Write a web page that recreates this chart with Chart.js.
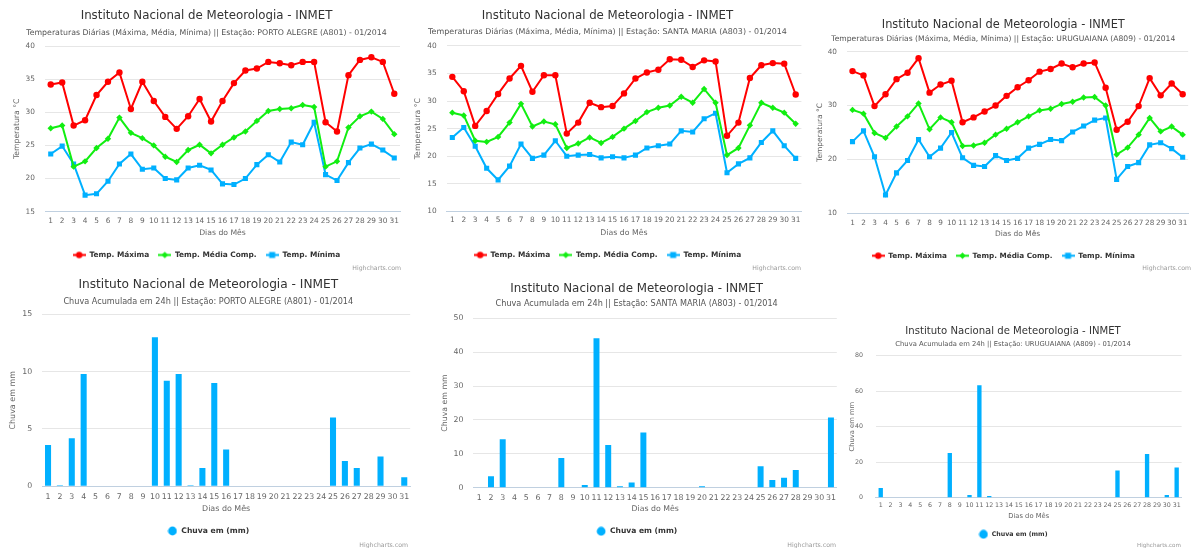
<!DOCTYPE html>
<html><head><meta charset="utf-8">
<script src="https://cdn.jsdelivr.net/npm/chart.js@4/dist/chart.umd.min.js"></script>
<style>
html,body{margin:0;padding:0;background:#fff;}
body{position:relative;width:1193px;height:548px;overflow:hidden;font-family:"DejaVu Sans",sans-serif;}
canvas{position:absolute;}
.credit{position:absolute;color:#999;white-space:nowrap;line-height:1;font-family:"DejaVu Sans",sans-serif;}
</style></head><body>
<script>
// ---------- DATA ----------
const days = ['1','2','3','4','5','6','7','8','9','10','11','12','13','14','15','16','17','18','19','20','21','22','23','24','25','26','27','28','29','30','31'];

const poaMax = [34.2,34.5,28.0,28.8,32.6,34.6,36.0,30.5,34.6,31.7,29.3,27.5,29.4,32.0,28.6,31.7,34.4,36.3,36.6,37.6,37.4,37.1,37.6,37.6,28.5,27.1,35.6,37.9,38.3,37.6,32.8];
const poaMed = [27.6,28.0,21.8,22.6,24.6,26.0,29.2,26.9,26.1,25.0,23.3,22.5,24.3,25.1,23.8,25.1,26.2,27.1,28.7,30.2,30.5,30.6,31.1,30.8,21.8,22.6,27.7,29.4,30.1,29.0,26.7];
const poaMin = [23.7,24.9,22.2,17.5,17.7,19.6,22.2,23.7,21.4,21.6,20.0,19.8,21.6,22.0,21.3,19.2,19.1,20.0,22.1,23.6,22.5,25.5,25.1,28.5,20.6,19.7,22.4,24.6,25.2,24.3,23.1];

const smMax = [34.4,31.8,25.5,28.2,31.3,34.1,36.4,31.7,34.7,34.7,24.1,26.1,29.7,28.9,29.1,31.4,34.1,35.2,35.7,37.6,37.5,36.2,37.4,37.2,23.7,26.1,34.2,36.5,36.9,36.8,31.2];
const smMed = [27.9,27.4,22.8,22.6,23.5,26.1,29.5,25.4,26.3,25.8,21.5,22.3,23.4,22.4,23.5,25.0,26.4,28.0,28.8,29.2,30.8,29.7,32.2,29.7,20.2,21.5,25.6,29.7,28.8,27.9,25.9];
const smMin = [23.4,25.2,21.8,17.8,15.7,18.2,22.2,19.6,20.2,22.8,20.0,20.2,20.3,19.7,19.9,19.7,20.2,21.5,21.9,22.2,24.6,24.4,26.8,27.8,17.0,18.6,19.7,22.5,24.6,21.9,19.6];

const uruMax = [36.4,35.6,29.9,32.1,34.9,36.1,38.8,32.4,33.9,34.6,26.9,27.8,28.9,30.0,31.8,33.4,34.7,36.3,36.8,37.8,37.1,37.8,38.0,33.3,25.5,27.0,29.9,35.1,31.9,34.1,32.1];
const uruMed = [29.2,28.5,24.9,24.0,26.1,28.0,30.4,25.6,27.8,26.9,22.5,22.6,23.1,24.6,25.7,26.9,28.0,29.1,29.4,30.3,30.7,31.5,31.6,30.0,20.9,22.2,24.6,27.7,25.2,26.1,24.6];
const uruMin = [23.3,25.3,20.5,13.4,17.5,19.8,23.7,20.5,22.1,25.0,20.3,18.9,18.7,20.7,19.8,20.2,22.1,22.8,23.7,23.5,25.1,26.2,27.3,27.7,16.3,18.7,19.4,22.7,23.1,22.0,20.4];

const poaRain = [3.6,0.1,4.2,9.8,0,0,0,0,0,13.0,9.2,9.8,0.1,1.6,9.0,3.2,0,0,0,0,0,0,0,0,6.0,2.2,1.6,0,2.6,0,0.8];
const smRain  = [0,3.4,14.3,0,0,0,0,8.8,0,0.8,44.1,12.6,0.4,1.5,16.3,0,0,0,0,0.4,0,0,0,0,6.3,2.3,2.9,5.2,0,0,20.7];
const uruRain = [5.4,0,0,0,0,0,0,25.2,0,1.5,63.4,0.9,0,0,0,0,0,0,0,0,0,0,0,0,15.3,0,0,24.6,0,1.5,17.0];

const ticksPoaTemp = [15,20,25,30,35,40];
const ticksSmTemp  = [10,15,20,25,30,35,40];
const ticksUruTemp = [10,20,30,40];
const ticksPoaRain = [0,5,10,15];
const ticksSmRain  = [0,10,20,30,40,50];
const ticksUruRain = [0,20,40,60,80];

const TITLE = 'Instituto Nacional de Meteorologia - INMET';
const subTemp = ['Temperaturas Diárias (Máxima, Média, Mínima) || Estação: PORTO ALEGRE (A801) - 01/2014',
                 'Temperaturas Diárias (Máxima, Média, Mínima) || Estação: SANTA MARIA (A803) - 01/2014',
                 'Temperaturas Diárias (Máxima, Média, Mínima) || Estação: URUGUAIANA (A809) - 01/2014'];
const subRain = ['Chuva Acumulada em 24h || Estação: PORTO ALEGRE (A801) - 01/2014',
                 'Chuva Acumulada em 24h || Estação: SANTA MARIA (A803) - 01/2014',
                 'Chuva Acumulada em 24h || Estação: URUGUAIANA (A809) - 01/2014'];
const tempNames = ['Temp. Máxima','Temp. Média Comp.','Temp. Mínima'];
const rainName = 'Chuva em (mm)';

// ---------- STYLE HELPERS ----------
const FONT = '"DejaVu Sans", sans-serif';
const RED = '#ff0000', GREEN = '#11ee11', BLUE = '#00b0ff';
const mctx = document.createElement('canvas').getContext('2d');
function fitSize(text, weight, width) {
  mctx.font = weight + ' 100px ' + FONT;
  return 100 * width / mctx.measureText(text).width;
}
function legendIcon(color, shape, withLine) {
  const c = document.createElement('canvas');
  const w = withLine ? 13 : 10, h = withLine ? 9 : 10;
  c.width = w; c.height = h;
  const g = c.getContext('2d');
  g.fillStyle = color; g.strokeStyle = color;
  if (withLine) { g.lineWidth = 2; g.beginPath(); g.moveTo(0, h/2); g.lineTo(w, h/2); g.stroke(); }
  const cx = w/2, cy = h/2;
  g.beginPath();
  if (shape === 'circle') g.arc(cx, cy, withLine ? 3.2 : 4.4, 0, 2*Math.PI);
  else if (shape === 'rectRot') { const r = 3.3; g.moveTo(cx, cy-r); g.lineTo(cx+r, cy); g.lineTo(cx, cy+r); g.lineTo(cx-r, cy); g.closePath(); }
  else g.rect(cx-3, cy-3, 6, 6);
  g.fill();
  return c;
}
function lineSets(maxA, medA, minA) {
  const base = {borderWidth: 2, pointBorderWidth: 0, tension: 0};
  return [
    Object.assign({label: tempNames[0], data: maxA, borderColor: RED, backgroundColor: RED, pointBackgroundColor: RED, pointStyle: 'circle', pointRadius: 3.2}, base),
    Object.assign({label: tempNames[1], data: medA, borderColor: GREEN, backgroundColor: GREEN, pointBackgroundColor: GREEN, pointStyle: 'rectRot', pointRadius: 3.2}, base),
    Object.assign({label: tempNames[2], data: minA, borderColor: BLUE, backgroundColor: BLUE, pointBackgroundColor: BLUE, pointStyle: 'rect', pointRadius: 3.6}, base)
  ];
}
function barSets(arr, bp) {
  return [{label: rainName, data: arr, backgroundColor: BLUE, borderWidth: 0, barPercentage: bp, categoryPercentage: 1}];
}
function credit(right, y, size) {
  const d = document.createElement('div');
  d.className = 'credit';
  d.textContent = 'Highcharts.com';
  d.style.fontSize = size + 'px';
  mctx.font = 'normal ' + size + 'px ' + FONT;
  const w = mctx.measureText('Highcharts.com').width;
  d.style.left = (right - w) + 'px';
  d.style.top = (y - size * 0.55) + 'px';
  document.body.appendChild(d);
}

function makePanel(p) {
  const cv = document.createElement('canvas');
  cv.width = p.W; cv.height = p.H;
  cv.style.left = p.x0 + 'px'; cv.style.top = p.y0 + 'px';
  document.body.appendChild(cv);
  const tc = p.TC - p.x0, pr = p.PR - p.x0, pl = p.PL - p.x0;
  const L = 2*tc - pr, R = p.W - pr;
  const tY = p.titleY - p.y0, sY = p.subY - p.y0, pT = p.plotTop - p.y0, pB = p.plotBottom - p.y0;
  const ts = fitSize(p.title, 'normal', p.titleW), ss = fitSize(p.subtitle, 'normal', p.subW);
  const h1 = ts*1.2, h2 = ss*1.2;
  const lf = fitSize(p.legendRef, 'bold', p.legendRefW);
  const lp = p.legendPad;
  const legendTop = p.legendY - p.y0 - lf/2 - lp;
  const xAxisH = legendTop - pB;
  const tf = p.tickFs, tlh = tf*1.2;
  const af = fitSize('Dias do Mês', 'normal', p.xTitleW), alh = af*1.2;
  const isLine = p.type === 'line';
  const cfg = {
    type: p.type,
    data: {labels: p.labels, datasets: p.datasets},
    options: {
      responsive: false, animation: false, devicePixelRatio: 1,
      layout: {padding: {left: L, right: R, top: 0, bottom: p.H - (legendTop + lf + 2*lp)}},
      plugins: {
        title: {display: true, text: p.title, color: '#333', font: {family: FONT, size: ts, weight: 'normal', lineHeight: 1.2}, padding: {top: tY - h1/2, bottom: 0}},
        subtitle: {display: true, text: p.subtitle, color: '#555', font: {family: FONT, size: ss, weight: 'normal', lineHeight: 1.2}, padding: {top: (sY - h2/2) - (tY + h1/2), bottom: pT - (sY + h2/2)}},
        legend: {display: true, position: 'bottom',
          labels: {usePointStyle: true, pointStyleWidth: isLine ? 13 : 10, padding: lp, color: '#333',
            font: {family: FONT, size: lf, weight: 'bold'},
            generateLabels: (chart) => chart.data.datasets.map((ds, i) => ({
              text: ds.label, pointStyle: p.icons[i], fillStyle: ds.backgroundColor, strokeStyle: ds.backgroundColor,
              lineWidth: 0, hidden: false, datasetIndex: i, fontColor: '#333'}))}},
        tooltip: {enabled: false}
      },
      scales: {
        x: {offset: true,
          grid: {display: false, drawTicks: false},
          border: {display: true, color: '#C0D0E0', width: 1},
          ticks: {autoSkip: false, maxRotation: 0, minRotation: 0, padding: p.xLabelY - p.y0 - pB - tlh/2, color: '#666', font: {family: FONT, size: tf, lineHeight: 1.2}},
          title: {display: true, text: 'Dias do Mês', color: '#666', font: {family: FONT, size: af, lineHeight: 1.2}, padding: {top: 0, bottom: legendTop - (p.xTitleY - p.y0) - alh/2}},
          afterFit: (s) => { s.height = xAxisH; }
        },
        y: {min: p.yTicks[0], max: p.yTicks[p.yTicks.length - 1],
          grid: {color: '#e6e6e6', drawTicks: false, lineWidth: 1},
          border: {display: false},
          ticks: {padding: p.yTickPad, color: '#666', font: {family: FONT, size: tf, lineHeight: 1.2}},
          afterBuildTicks: (s) => { s.ticks = p.yTicks.map(v => ({value: v})); },
          title: {display: true, text: p.yTitle, color: '#666', font: {family: FONT, size: af, lineHeight: 1.2}, padding: {top: p.yTitleX - p.x0 - L - alh/2, bottom: 0}},
          afterFit: (s) => { s.width = pl - L; }
        }
      }
    }
  };
  return new Chart(cv.getContext('2d'), cfg);
}

const lineIcons = [legendIcon(RED, 'circle', true), legendIcon(GREEN, 'rectRot', true), legendIcon(BLUE, 'rect', true)];
const barIcons = [legendIcon(BLUE, 'circle', false)];

const common = {title: TITLE, labels: days};

// Panel 1: Porto Alegre temperature
makePanel(Object.assign({}, common, {type: 'line', x0: 0, y0: 0, W: 413, H: 275,
  TC: 206.5, PL: 45, PR: 400, titleY: 16, subY: 33, plotTop: 46, plotBottom: 212.7,
  xLabelY: 222, xTitleY: 234.3, legendY: 256, yTitleX: 17.5,
  titleW: 252, subtitle: subTemp[0], subW: 360.7, legendRef: tempNames[0], legendRefW: 60, legendPad: 9,
  tickFs: 7.4, xTitleW: 46.7, yTicks: ticksPoaTemp, yTickPad: 10, yTitle: 'Temperatura °C',
  datasets: lineSets(poaMax, poaMed, poaMin), icons: lineIcons}));

// Panel 2: Santa Maria temperature
makePanel(Object.assign({}, common, {type: 'line', x0: 400, y0: 0, W: 415, H: 275,
  TC: 607.5, PL: 446.6, PR: 801.4, titleY: 15.7, subY: 31.7, plotTop: 46, plotBottom: 212.3,
  xLabelY: 220.7, xTitleY: 234.3, legendY: 256, yTitleX: 418,
  titleW: 251.6, subtitle: subTemp[1], subW: 359, legendRef: tempNames[0], legendRefW: 60, legendPad: 9,
  tickFs: 7.4, xTitleW: 47.3, yTicks: ticksSmTemp, yTickPad: 10, yTitle: 'Temperatura °C',
  datasets: lineSets(smMax, smMed, smMin), icons: lineIcons}));

// Panel 3: Uruguaiana temperature
makePanel(Object.assign({}, common, {type: 'line', x0: 800, y0: 0, W: 393, H: 275,
  TC: 1003.3, PL: 847, PR: 1192.3, titleY: 25, subY: 39, plotTop: 51.7, plotBottom: 214.3,
  xLabelY: 224.3, xTitleY: 235.3, legendY: 256.7, yTitleX: 820,
  titleW: 243.3, subtitle: subTemp[2], subW: 345, legendRef: tempNames[0], legendRefW: 58.7, legendPad: 9,
  tickFs: 7.3, xTitleW: 45.3, yTicks: ticksUruTemp, yTickPad: 10, yTitle: 'Temperatura °C',
  datasets: lineSets(uruMax, uruMed, uruMin), icons: lineIcons}));

// Panel 4: Porto Alegre rain
makePanel(Object.assign({}, common, {type: 'bar', x0: 0, y0: 270, W: 417, H: 278,
  TC: 208.3, PL: 42.1, PR: 410.2, titleY: 285, subY: 301.7, plotTop: 314.3, plotBottom: 487.3,
  xLabelY: 497.7, xTitleY: 510, legendY: 532, yTitleX: 13,
  titleW: 260, subtitle: subRain[0], subW: 290, legendRef: rainName, legendRefW: 68, legendPad: 9,
  tickFs: 7.8, xTitleW: 48.3, yTicks: ticksPoaRain, yTickPad: 10, yTitle: 'Chuva em mm',
  datasets: barSets(poaRain, 0.51), icons: barIcons}));

// Panel 5: Santa Maria rain
makePanel(Object.assign({}, common, {type: 'bar', x0: 400, y0: 270, W: 450, H: 278,
  TC: 636.7, PL: 473.4, PR: 836.8, titleY: 289.3, subY: 304.3, plotTop: 318.3, plotBottom: 488.7,
  xLabelY: 498.7, xTitleY: 510, legendY: 532.3, yTitleX: 445,
  titleW: 253, subtitle: subRain[1], subW: 282.6, legendRef: rainName, legendRefW: 67.4, legendPad: 9,
  tickFs: 7.8, xTitleW: 47.3, yTicks: ticksSmRain, yTickPad: 10, yTitle: 'Chuva em mm',
  datasets: barSets(smRain, 0.51), icons: barIcons}));

// Panel 6: Uruguaiana rain
makePanel(Object.assign({}, common, {type: 'bar', x0: 800, y0: 310, W: 393, H: 238,
  TC: 1013, PL: 875.8, PR: 1181.6, titleY: 331, subY: 344, plotTop: 355.7, plotBottom: 498.7,
  xLabelY: 506.7, xTitleY: 517, legendY: 535.3, yTitleX: 852,
  titleW: 215.7, subtitle: subRain[2], subW: 236, legendRef: rainName, legendRefW: 56, legendPad: 9,
  tickFs: 6.3, xTitleW: 41, yTicks: ticksUruRain, yTickPad: 12.8, yTitle: 'Chuva em mm',
  datasets: barSets(uruRain, 0.44), icons: barIcons}));

credit(401, 268.5, 6.2);
credit(801, 268.5, 6.2);
credit(1191, 268, 6.2);
credit(408, 545.5, 6.2);
credit(836, 545.5, 6.2);
credit(1181, 546, 5.6);
</script>
</body></html>
